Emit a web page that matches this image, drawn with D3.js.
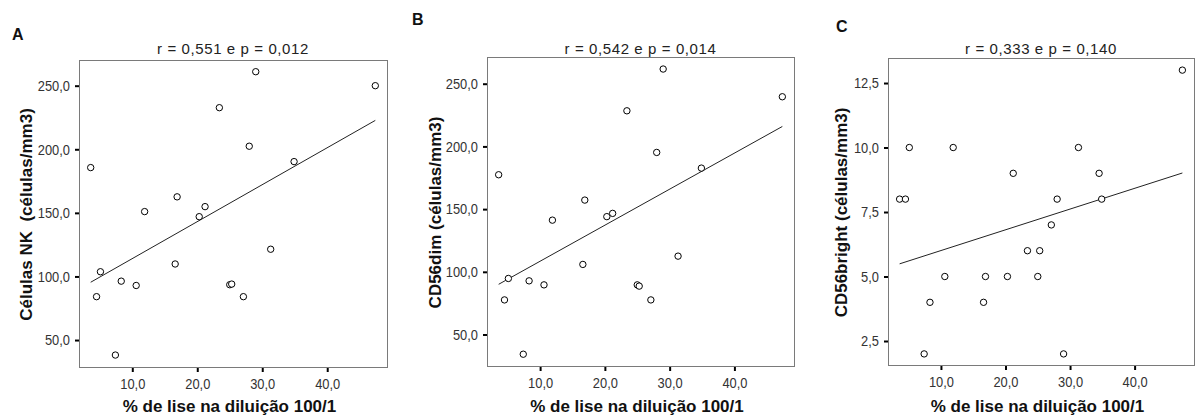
<!DOCTYPE html>
<html>
<head>
<meta charset="utf-8">
<script src="https://cdn.jsdelivr.net/npm/d3@7"></script>
<style>
  body { margin: 0; background: #fff; }
  svg text { font-family: "Liberation Sans", Arial, sans-serif; }
</style>
</head>
<body>
<div id="plot"></div>
<script>
// one entry per patient: % lysis at the 100/1 dilution
const lysis      = [3.6, 4.5, 5.1, 7.4, 8.3, 10.6, 11.9, 16.6, 16.9, 20.3, 21.2, 23.4, 25.0, 25.3, 27.1, 28.0, 29.0, 31.3, 34.5, 34.9, 47.4];
// cell counts (células/mm3), null where the point is not in the panel
const nkCells    = [185.6, 84.1, 103.7, 38.2, 96.3, 92.9, 151.0, 109.8, 162.6, 147.0, 154.9, 232.7, 93.5, 94.0, 84.1, 202.4, 261.0, 121.4, null, 190.3, 250.0];
const cd56dim    = [177.4, 77.6, 94.7, 34.3, 92.8, 89.6, 141.2, 105.9, 157.2, 144.0, 146.6, 228.4, 89.6, 88.6, 77.6, 195.2, 261.7, 112.5, null, 182.7, 239.6];
const cd56bright = [8, 8, 10, 2, 4, 5, 10, 4, 5, 5, 9, 6, 5, 6, 7, 8, 2, 10, 9, 8, 13];

const panelLetters = ["A", "B", "C"];
const titles = ["r = 0,551 e p = 0,012", "r = 0,542 e p = 0,014", "r = 0,333 e p = 0,140"];
const yTitles = ["Células NK  (células/mm3)", "CD56dim (células/mm3)", "CD56bright (células/mm3)"];
const xTitle = "% de lise na diluição 100/1";
const xTicks = [10, 20, 30, 40];
const countTicks = [50, 100, 150, 200, 250];
const brightTicks = [2.5, 5, 7.5, 10, 12.5];

const width = 1195, height = 419;
const narrow = 0.86; // tick labels are a condensed face in the original

// frame boxes and label spots for each panel
const layout = [
  { left: 79, top: 60, right: 387, bottom: 367, ydom: [28.8, 270.2], letter: [12, 40], yTitleX: 32 },
  { left: 487, top: 57, right: 794, bottom: 366, ydom: [24.9, 271.3], letter: [412, 25], yTitleX: 441 },
  { left: 888, top: 58, right: 1194, bottom: 365, ydom: [1.57, 13.47], letter: [836, 32], yTitleX: 847 }
];
const ys = [nkCells, cd56dim, cd56bright];
const yTickSets = [countTicks, countTicks, brightTicks];

const ptBR = d3.formatLocale({ decimal: ",", thousands: ".", grouping: [3], currency: ["", ""] });
const fmt = ptBR.format(".1f");

const svg = d3.select("#plot").append("svg")
  .attr("width", width)
  .attr("height", height);

// plain least squares fit
function fit(pts) {
  const mx = d3.mean(pts, d => d.x), my = d3.mean(pts, d => d.y);
  let sxy = 0, sxx = 0;
  pts.forEach(d => { sxy += (d.x - mx) * (d.y - my); sxx += (d.x - mx) * (d.x - mx); });
  const b = sxy / sxx;
  return { a: my - b * mx, b: b };
}

layout.forEach((L, i) => {
  const pts = lysis.map((x, j) => ({ x: x, y: ys[i][j] })).filter(d => d.y != null);

  const x = d3.scaleLinear().domain([1.8, 49.2]).range([L.left, L.right]);
  const y = d3.scaleLinear().domain(L.ydom).range([L.bottom, L.top]);
  const g = svg.append("g");

  // frame
  g.append("rect")
    .attr("x", L.left + 0.5).attr("y", L.top + 0.5)
    .attr("width", L.right - L.left).attr("height", L.bottom - L.top)
    .attr("fill", "none").attr("stroke", "#7a7a7a").attr("stroke-width", 1);

  // axes
  const yAxis = g.append("g")
    .attr("transform", "translate(" + L.left + ",0)")
    .call(d3.axisLeft(y).tickValues(yTickSets[i]).tickFormat(fmt).tickSize(4).tickPadding(5));
  const xAxis = g.append("g")
    .attr("transform", "translate(0," + (L.bottom + 1) + ")")
    .call(d3.axisBottom(x).tickValues(xTicks).tickFormat(fmt).tickSize(4).tickPadding(6));
  [xAxis, yAxis].forEach(ax => {
    ax.select(".domain").remove();
    ax.selectAll(".tick line").attr("stroke", "#000").attr("stroke-width", 2);
    ax.selectAll(".tick text")
      .attr("fill", "#333")
      .attr("transform", "scale(" + narrow + ",1)")
      .style("font-size", "15px");
  });
  yAxis.selectAll(".tick text").attr("x", -9 / narrow);

  // fit line
  const f = fit(pts);
  const ext = d3.extent(pts, d => d.x);
  g.append("line")
    .attr("x1", x(ext[0])).attr("y1", y(f.a + f.b * ext[0]))
    .attr("x2", x(ext[1])).attr("y2", y(f.a + f.b * ext[1]))
    .attr("stroke", "#222").attr("stroke-width", 1);

  // points
  g.selectAll("circle").data(pts).enter().append("circle")
    .attr("cx", d => x(d.x)).attr("cy", d => y(d.y))
    .attr("r", 3.2)
    .attr("fill", "#fff").attr("stroke", "#000").attr("stroke-width", 1);

  // titles
  const cx = (L.left + L.right) / 2;
  g.append("text")
    .attr("x", cx).attr("y", 54)
    .attr("text-anchor", "middle")
    .attr("fill", "#222")
    .style("font-size", "15px")
    .style("letter-spacing", "0.6px")
    .text(titles[i]);

  g.append("text")
    .attr("x", L.letter[0]).attr("y", L.letter[1])
    .attr("font-weight", 700)
    .style("font-size", "16px")
    .attr("fill", "#111")
    .text(panelLetters[i]);

  g.append("text")
    .attr("x", cx - 3.5).attr("y", 412)
    .attr("text-anchor", "middle")
    .attr("font-weight", 700)
    .style("font-size", "17px")
    .attr("fill", "#111")
    .text(xTitle);

  g.append("text")
    .attr("transform", "translate(" + L.yTitleX + "," + ((L.top + L.bottom) / 2 + 1) + ") rotate(-90)")
    .attr("text-anchor", "middle")
    .attr("font-weight", 700)
    .style("font-size", "17px")
    .style("white-space", "pre")
    .attr("fill", "#111")
    .text(yTitles[i]);
});
</script>
</body>
</html>
